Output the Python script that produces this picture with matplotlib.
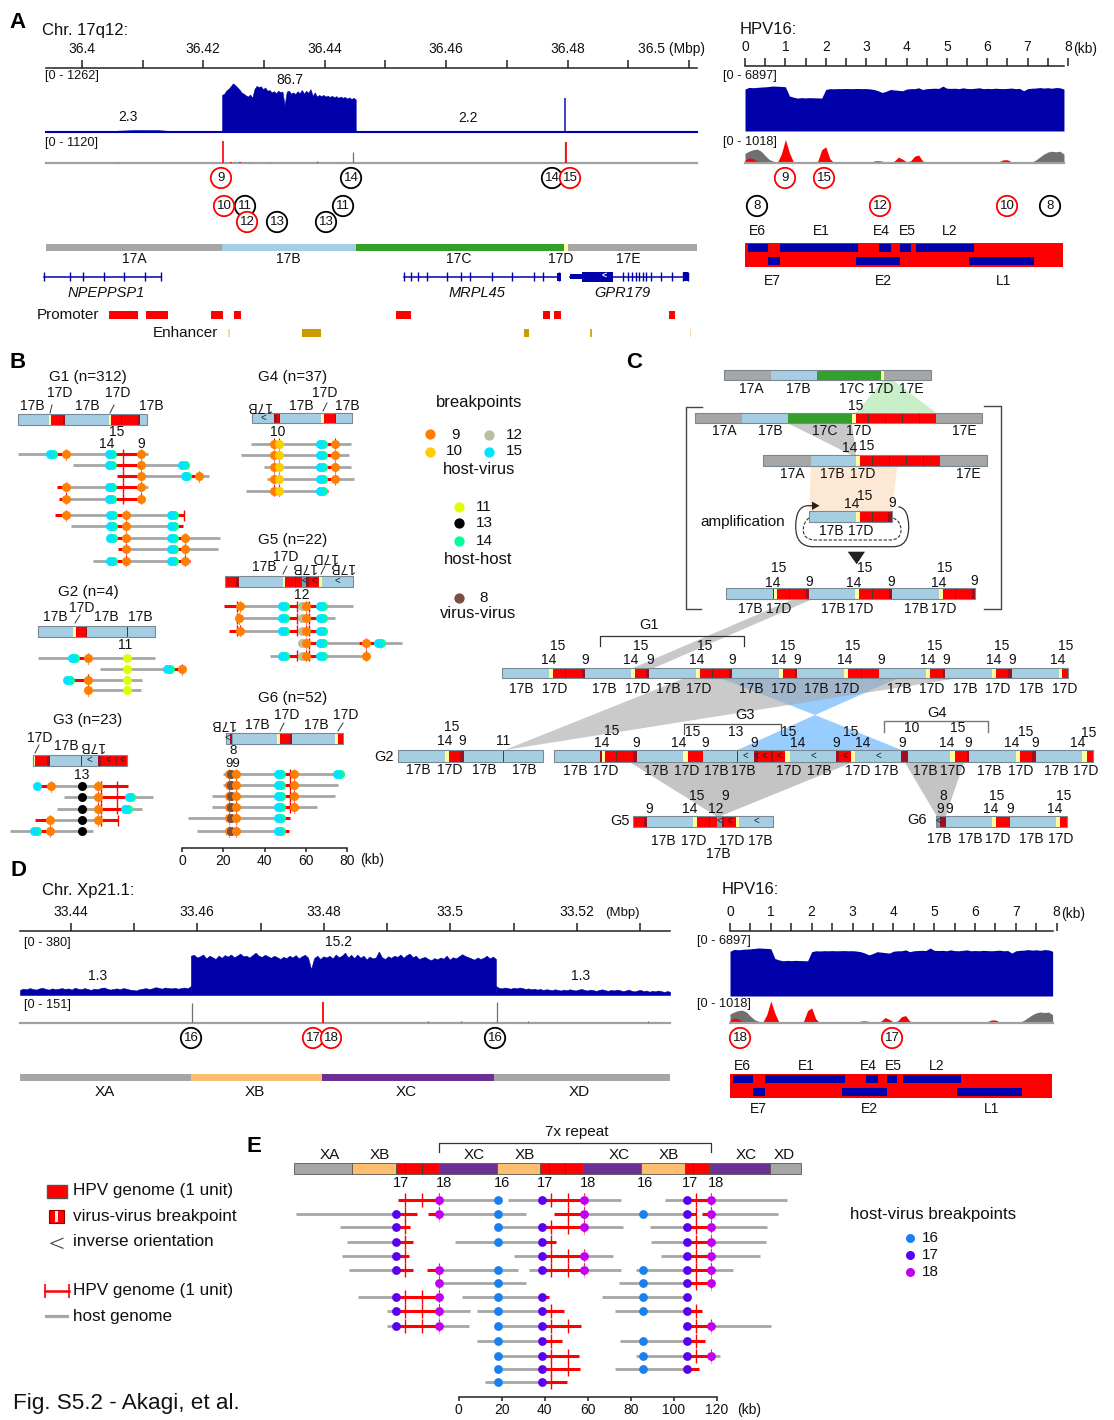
import numpy as np
import matplotlib
matplotlib.use("Agg")
import matplotlib.pyplot as plt
from matplotlib.patches import Circle, Polygon, Rectangle, PathPatch
from matplotlib.path import Path

plt.rcParams['font.family'] = ['Liberation Sans', 'DejaVu Sans']

W, H = 1114, 1420

# ---- panel A, chr17 coverage (Mbp / depth)
a_left_depth = [20, 22, 20, 24, 22, 26, 22, 20, 24, 28, 26, 24, 34, 38, 44, 48, 46, 44, 48, 40,
                30, 26, 24, 22, 26, 24, 20, 22, 24, 20]
a_block_depth = [900, 930, 1010, 1050, 1110, 1180, 1140, 1090, 1030, 960, 930, 890, 860, 910, 830,
                 1040, 1120, 1090, 1110, 1040, 1080, 1000, 1020, 960, 990, 940, 1000, 970, 980, 650,
                 980, 1000, 930, 960, 920, 990, 940, 1020, 930, 1000, 950, 1040, 880, 960, 860, 900,
                 870, 900, 860, 880, 850, 880, 840, 870, 830, 860, 830, 850, 810, 840, 800, 830, 790]
a_right_depth = [24, 20, 18, 22, 26, 20, 18, 24, 22, 20, 26, 22, 18, 20, 24, 22, 26, 20, 18, 22,
                 20, 24, 28, 22, 20, 24, 22, 26, 20, 18, 24, 28, 22, 20, 24, 18, 22, 26, 20,
                 24, 18, 22, 26, 20, 22, 18, 24, 20, 22]
a_spike = (36.4796, 825)
a_frag_red = [(36.4233, 820), (36.4797, 780), (36.4245, 40), (36.4261, 30)]
a_frag_grey = [(36.4446, 410), (36.4795, 800), (36.4060, 20), (36.4276, 50), (36.4310, 50),
               (36.4387, 60), (36.4422, 40)]
a_seg_edges = [36.3941, 36.4231, 36.4451, 36.4794, 36.4800, 36.5013]

npeppsp1_exons = [36.3938, 36.3981, 36.4002, 36.4036, 36.4070, 36.4104, 36.4131]
mrpl45_exons = [36.4530, 36.4542, 36.4553, 36.4568, 36.4602, 36.4625, 36.4639, 36.4675, 36.4709,
                36.4745, 36.4760, 36.4785]
gpr179_exons = [36.4891, 36.4899, 36.4906, 36.4912, 36.4917, 36.4924, 36.4929, 36.4937, 36.4953,
                36.4972, 36.4990, 36.4998]
promoters = [(36.4045, 36.4092), (36.4106, 36.4142), (36.4213, 36.4233), (36.4251, 36.4262),
             (36.4517, 36.4542), (36.4759, 36.4771), (36.4777, 36.4789), (36.4967, 36.4977)]
enhancers = [(36.4241, 36.4244, '#f5dc9c'), (36.4363, 36.4394, '#cc9900'),
             (36.4728, 36.4737, '#cc9900'), (36.4837, 36.4840, '#d9aa20'),
             (36.5002, 36.5003, '#f5dc9c')]

# ---- HPV16 tracks, one value per 0.1 kb
hpv_cov = [4900, 5100, 5060, 5100, 5140, 5160, 5210, 5260, 5230, 5210, 5170,
           4100, 3950, 3850, 3900, 3870, 3900, 3880, 3870, 3850,
           4850, 4950, 4930, 4960, 4950, 4970, 4950, 4960, 4970, 4950, 4960,
           4920, 4850, 4700, 4500, 4650, 4850, 4800, 4750, 4700,
           4900, 4950, 4950, 5050, 4850, 4950, 4980, 5000, 4980, 5250,
           5000, 4980, 5000, 4950, 5050, 4970, 4950, 5000, 5050, 4950,
           4980, 4950, 5000, 4970, 4950, 4980, 5020, 4950, 4980, 4700,
           4950, 5000, 5020, 5080, 5020, 5060, 5000, 5080, 5050, 4900]
hpv_grey = [330, 400, 450, 470, 400, 250, 120, 60, 40, 20,
            0, 0, 0, 0, 0, 10, 50, 10, 0, 0,
            0, 0, 0, 0, 0, 0, 0, 40, 10, 10,
            40, 10, 0, 0, 0, 0, 0, 0, 0, 0,
            0, 0, 0, 0, 0, 0, 0, 0, 30, 10,
            0, 10, 30, 10, 0, 0, 20, 0, 0, 0,
            0, 0, 0, 0, 0, 0, 0, 0, 0, 10,
            10, 30, 100, 200, 300, 370, 400, 380, 400, 300]
hpv_red = [100, 180, 150, 60, 50, 10, 0, 0, 20, 300,
           800, 350, 30, 0, 0, 0, 0, 20, 60, 450,
           550, 150, 10, 0, 0, 0, 0, 0, 0, 0,
           0, 0, 70, 80, 60, 0, 0, 70, 200, 130,
           40, 70, 230, 270, 70, 10, 0, 0, 0, 0,
           0, 0, 0, 0, 0, 0, 0, 0, 0, 0,
           0, 0, 0, 50, 110, 110, 40, 0, 0, 0,
           0, 0, 0, 0, 0, 0, 0, 0, 0, 0]
hpv_genes_top = [("E6", 0.08, 0.56, 0.30), ("E1", 0.86, 2.81, 1.88), ("E4", 3.33, 3.62, 3.39),
                 ("E5", 3.85, 4.10, 4.01), ("L2", 4.24, 5.66, 5.07)]
hpv_genes_low = [("E7", 0.56, 0.86, 0.69), ("E2", 2.75, 3.85, 3.42), ("L1", 5.56, 7.16, 6.41)]

# ---- panel D, chrX coverage
d_left_depth = [34, 42, 38, 46, 40, 36, 44, 48, 40, 36, 44, 38, 42, 46, 40, 44, 36, 48, 42, 38,
                46, 40, 34, 42, 38, 46, 50, 42, 36, 40, 44, 38, 46, 42, 36, 34, 30, 38, 42, 46,
                40, 44, 52, 48, 42, 50, 46, 44, 48, 42, 46, 50, 44, 60]
d_block_depth = [262, 268, 250, 258, 270, 244, 262, 252, 240, 262, 248, 266, 256, 270, 252, 262, 276,
                 258, 262, 250, 266, 282, 262, 254, 268, 258, 248, 262, 252, 240, 254, 246, 262, 250,
                 266, 244, 258, 268, 250, 172, 246, 262, 240, 258, 250, 262, 244, 270, 252, 262, 282,
                 250, 268, 246, 270, 248, 262, 238, 256, 244, 250, 290, 252, 240, 258, 248, 262, 254,
                 270, 248, 266, 276, 252, 262, 240, 248, 254, 240, 232, 246, 238, 250, 242, 262, 236,
                 252, 244, 258, 272, 260, 252, 244, 236, 250, 240, 248, 262, 244, 256, 240]
d_right_depth = [60, 48, 44, 50, 46, 42, 48, 44, 50, 46, 40, 44, 38, 42, 36, 40, 34, 38, 36, 32,
                 38, 34, 30, 36, 32, 38, 34, 30, 36, 40, 34, 30, 36, 32, 28, 34, 38, 32, 28, 34,
                 30, 36, 32, 26, 30, 36, 28, 24, 30, 34, 26, 30, 22, 28, 24, 30, 26, 20, 26, 22]
d_frag_red = [(33.4798, 138)]
d_frag_grey = [(33.4592, 131), (33.5073, 138), (33.4965, 15), (33.5017, 12), (33.5122, 10),
               (33.5313, 10)]
d_seg_edges = [33.4320, 33.4590, 33.4797, 33.5069, 33.5347]

# ---- panel B, breakpoint ids and junction reads (kb)
PAIR = 1415
G1_rows = [454, 465, 476, 487.3, 498.7, 515, 526.3, 538, 549.3, 560.7]
G1_reads = [
    (0, [(-79.7, -34.7), (-20.2, -16.7)], [(-63.6, -56.5), (-34.7, -20.2)], [-28.7],
     [(PAIR, -63.6), (9, -56.5), (PAIR, -34.7), (9, -20.2)]),
    (1, [(-53.3, -34.7), (-20.2, 0.5)], [(-34.7, -20.2)], [-28.7],
     [(PAIR, -34.7), (9, -20.2), (PAIR, 0.5)]),
    (2, [(-20.2, 1.8), (8.3, 13.1)], [(-31.9, -20.2), (1.8, 8.3)], [-28.7],
     [(9, -20.2), (PAIR, 1.8), (9, 8.3)]),
    (3, [(-56.5, -34.7), (-20.2, -16.7)], [(-60.7, -56.5), (-34.7, -20.2)], [-28.7],
     [(9, -56.5), (PAIR, -34.7), (9, -20.2)]),
    (4, [(-56.5, -34.7)], [(-60.1, -56.5), (-34.7, -20.2)], [-28.7],
     [(9, -56.5), (PAIR, -34.7), (9, -20.2)]),
    (5, [(-56.5, -34.4), (-27.4, -4.9)], [(-61.9, -56.5), (-34.4, -27.4), (-4.9, 1.0)], [1.0],
     [(9, -56.5), (PAIR, -34.4), (9, -27.4), (PAIR, -4.9)]),
    (6, [(-54.3, -34.4), (-27.4, -4.9)], [(-34.4, -27.4), (-4.9, 0.5)], [],
     [(PAIR, -34.4), (9, -27.4), (PAIR, -4.9)]),
    (7, [(-27.4, -4.9), (1.3, 18.3)], [(-34.4, -27.4), (-4.9, 1.3)], [],
     [(PAIR, -34.4), (9, -27.4), (PAIR, -4.9), (9, 1.3)]),
    (8, [(-27.4, -4.9), (1.3, 17.2)], [(-31.4, -27.4), (-4.9, 1.3)], [],
     [(9, -27.4), (PAIR, -4.9), (9, 1.3)]),
    (9, [(-43.6, -34.4), (-27.4, -4.9)], [(-34.4, -27.4), (-4.9, 3.7)], [],
     [(PAIR, -34.4), (9, -27.4), (PAIR, -4.9), (9, 1.3)]),
]
G2_rows = [658.3, 669, 679.7, 690]
G2_reads = [
    (0, [(-70.3, -53), (-45.7, -13.3)], [(-53, -45.7)], [], [(PAIR, -53), (9, -45.7), (11, -27)]),
    (1, [(-40, -6.5)], [(-6.5, -0.2)], [], [(11, -27), (PAIR, -6.5), (9, -0.2)]),
    (2, [(-45.7, -19.4)], [(-55.4, -45.7)], [], [(PAIR, -55.4), (9, -45.7), (11, -27)]),
    (3, [(-45.7, -20.1)], [], [], [(9, -45.7), (11, -27)]),
]
G3_rows = [786.3, 797.3, 808.7, 820, 831]
G3_reads = [
    (0, [(-64, -41.1)], [(-70.4, -64), (-41.1, -26.2)], [-39.5, -31.6],
     [(15, -70.4), (9, -64), (13, -48.9), (9, -41.1)]),
    (1, [(-57.5, -41.1), (-25.4, -14.3)], [(-41.1, -25.4)], [-39.5, -31.6],
     [(13, -48.9), (9, -41.1), (PAIR, -25.4)]),
    (2, [(-61, -41.1), (-26.9, -19.8)], [(-41.1, -26.9)], [-39.5, -31.6],
     [(13, -48.9), (9, -41.1), (PAIR, -26.9)]),
    (3, [(-64.3, -41.1)], [(-71.6, -64.3), (-41.1, -31.1)], [-39.5, -31.1],
     [(9, -64.3), (13, -48.9), (9, -41.1)]),
    (4, [(-83.7, -71.3), (-64.3, -43.2)], [(-71.3, -64.3)], [],
     [(PAIR, -71.3), (9, -64.3), (13, -48.9)]),
]
G4_rows = [443.7, 455.3, 467.3, 479, 490.7]
G4_reads = [
    (0, [(33.2, 67.7), (74.2, 82.1)], [(67.7, 74.2)], [], [(9, 44.7), (10, 46.8), (PAIR, 67.7), (9, 74.2)]),
    (1, [(28.5, 67.7), (74.2, 81.1)], [(67.7, 74.2)], [], [(9, 44.7), (10, 46.8), (PAIR, 67.7), (9, 74.2)]),
    (2, [(39.8, 67.7), (74.2, 82.1)], [(67.7, 74.2)], [], [(9, 44.7), (10, 46.8), (PAIR, 67.7), (9, 74.2)]),
    (3, [(41.3, 67.7), (74.2, 83.4)], [(67.7, 74.2)], [], [(9, 44.7), (10, 46.8), (PAIR, 67.7), (9, 74.2)]),
    (4, [(30.9, 67.7)], [(67.7, 70.6)], [], [(9, 44.7), (10, 46.8), (PAIR, 67.7)]),
]
G5_rows = [606, 618.3, 630.7, 643.3, 655.7]
G5_reads = [
    (0, [(28, 49.1), (67.5, 83.1)], [(20.2, 28), (49.1, 58), (60.2, 67.5)], [26.7, 55.5, 61.7],
     [(9, 28), (PAIR, 49.1), (12, 58), (9, 60.2), (PAIR, 67.5)]),
    (1, [(27.5, 49.1), (67.5, 74.2)], [(49.1, 58), (60.2, 67.5)], [26.7, 55.5, 61.7],
     [(9, 27.5), (PAIR, 49.1), (12, 58), (9, 60.2), (PAIR, 67.5)]),
    (2, [(28, 49.1)], [(22.8, 28), (49.1, 58), (60.2, 67.5)], [26.7, 55.5, 61.7],
     [(9, 28), (PAIR, 49.1), (12, 58), (9, 60.2), (PAIR, 67.5)]),
    (3, [(67.5, 86), (96, 106.6)], [(60.2, 67.5), (86, 96)], [61.7],
     [(12, 58), (9, 60.2), (PAIR, 67.5), (9, 89.2), (PAIR, 96)]),
    (4, [(42.6, 49.1), (67.5, 89.2)], [(49.1, 58), (60.2, 67.5)], [55.5, 61.7],
     [(PAIR, 49.1), (12, 58), (9, 60.2), (PAIR, 67.5), (9, 89.2)]),
]
G6_rows = [774, 785, 796, 807, 818, 831]
G6_reads = [
    (0, [(19.9, 47.4), (54.3, 75.8)], [(47.4, 54.3)], [52.5], [(9, 22.5), (8, 23.6), (9, 26.1), (PAIR, 47.4), (9, 54.3), (PAIR, 75.8)]),
    (1, [(19.9, 47.4), (54.3, 75.8)], [(47.4, 54.3)], [52.5], [(9, 22.5), (8, 23.6), (9, 26.1), (PAIR, 47.4), (9, 54.3)]),
    (2, [(14.6, 47.4), (54.3, 74.2)], [(47.4, 54.3)], [52.5], [(9, 22.5), (8, 23.6), (9, 26.1), (PAIR, 47.4), (9, 54.3)]),
    (3, [(14.6, 47.4), (54.3, 65.3)], [(47.4, 54.3)], [52.5], [(9, 22.5), (8, 23.6), (9, 26.1), (PAIR, 47.4), (9, 54.3)]),
    (4, [(2.9, 47.4)], [(47.4, 52.3)], [], [(9, 22.5), (8, 23.6), (9, 26.1), (PAIR, 47.4)]),
    (5, [(7, 47.4)], [(47.4, 52)], [], [(9, 22.5), (8, 23.6), (9, 26.1), (PAIR, 47.4)]),
]

# ---- panel E reads (kb)
E_rows = [1200, 1214.3, 1227.3, 1241.7, 1256, 1270, 1283.3, 1296.7, 1310.7, 1326, 1341.3, 1356,
          1368.7, 1382]
E_reads = [
    (0, [(-9.3, 18.2), (23, 38.5), (58.2, 75.4), (96, 105.9), (117.4, 152.4)],
     [(-28, -9.3), (38.5, 58.2), (105.9, 117.4)], [-24.7, -17, 42.7, 50.8, 110.4],
     [(18, -9.3), (16, 18.2), (17, 38.5), (18, 58.2), (17, 105.9), (18, 117.4)]),
    (1, [(-75.4, -29.2), (-9.3, 31.2), (58.2, 105.9), (117.4, 148.2)],
     [(-29.2, -19.2), (-14, -9.3), (44.5, 58.2), (105.9, 110.4), (112.8, 117.4)], [-24.7, 50.8, 110.4],
     [(17, -29.2), (18, -9.3), (16, 18.2), (18, 58.2), (16, 85.8), (17, 105.9), (18, 117.4)]),
    (2, [(-55.1, -29.2), (18.2, 38.5), (58.2, 76.4), (88.8, 105.9), (117.4, 143)],
     [(-29.2, -22.5), (38.5, 58.2), (105.9, 117.4)], [-24.7, 42.7, 50.8, 110.4],
     [(17, -29.2), (16, 18.2), (17, 38.5), (18, 58.2), (17, 105.9), (18, 117.4)]),
    (3, [(-52, -29.2), (-1.9, 38.5), (89.1, 105.9), (117.4, 142.7)],
     [(-29.2, -21.3), (38.5, 45), (105.9, 117.4)], [-24.7, 42.7, 110.4],
     [(17, -29.2), (16, 18.2), (17, 38.5), (17, 105.9), (18, 117.4)]),
    (4, [(-53.9, -29.2), (25.6, 38.5), (58.2, 71.6), (94.1, 105.9), (117.4, 140.1)],
     [(-29.2, -23), (38.5, 58.2), (105.9, 117.4)], [-24.7, 42.7, 50.8, 110.4],
     [(17, -29.2), (17, 38.5), (18, 58.2), (17, 105.9), (18, 117.4)]),
    (5, [(-51, -29.2), (-9.3, 27.5), (32.6, 38.5), (58.2, 75.4), (82.4, 105.9), (117.4, 127.6)],
     [(-29.2, -21.1), (-14.8, -9.3), (38.5, 58.2), (105.9, 117.4)], [-24.7, 42.7, 50.8, 110.4],
     [(17, -29.2), (18, -9.3), (16, 18.2), (17, 38.5), (18, 58.2), (16, 85.8), (17, 105.9), (18, 117.4)]),
    (6, [(-9.3, 31.2), (74.5, 105.9)], [(105.9, 117.4)], [110.4],
     [(18, -9.3), (16, 18.2), (16, 85.8), (17, 105.9), (18, 117.4)]),
    (7, [(-46.5, -29.2), (1.5, 38.5), (66.8, 105.9)], [(-29.2, -9.3), (38.5, 42)], [-24.7, -17],
     [(17, -29.2), (18, -9.3), (16, 18.2), (17, 38.5), (16, 85.8), (17, 105.9)]),
    (8, [(-33.1, -29.2), (-9.3, 5.5), (8.4, 38.5), (72.4, 105.9)],
     [(-29.2, -9.3), (38.5, 49.1), (105.9, 112.8)], [-24.7, -17, 42.7, 110.4],
     [(17, -29.2), (18, -9.3), (16, 18.2), (17, 38.5), (16, 85.8), (17, 105.9)]),
    (9, [(-33.1, -29.2), (-9.3, 4.6), (18.2, 38.5), (117.4, 145.2)],
     [(-29.2, -9.3), (38.5, 57), (105.9, 117.4)], [-24.7, -17, 42.7, 50.8, 110.4],
     [(17, -29.2), (18, -9.3), (16, 18.2), (17, 38.5), (17, 105.9), (18, 117.4)]),
    (10, [(8.4, 38.5), (74.9, 105.9)], [(38.5, 47.9), (105.9, 114.5)], [42.7, 110.4],
     [(16, 18.2), (17, 38.5), (16, 85.8), (17, 105.9)]),
    (11, [(18.2, 38.5), (82.4, 105.9), (117.4, 121.5)], [(38.5, 56), (105.9, 117.4)], [42.7, 50.8, 110.4],
     [(16, 18.2), (17, 38.5), (16, 85.8), (17, 105.9), (18, 117.4)]),
    (12, [(18.2, 38.5), (72.4, 105.9)], [(38.5, 56.5), (105.9, 111.6)], [42.7, 50.8],
     [(16, 18.2), (17, 38.5), (16, 85.8), (17, 105.9)]),
    (13, [(12.2, 38.5)], [(38.5, 50.3)], [42.7], [(16, 18.2), (17, 38.5)]),
]
E_bar_edges = [-76.2, -49.6, -29.2, -9.3, 17.7, 37.8, 57.9, 84.5, 104.9, 116.9, 144.4, 159.1]
E_bar_kinds = "g o r p o r p o r p g".split()
E_bar_dividers = [-25, -17, 42, 49.6, 109]

DOT = {8: '#7a4f40', 9: '#ff8000', 10: '#ffcc00', 11: '#ddff00', 12: '#bdbd9f', 13: '#000000',
       14: '#00ff99', 15: '#00e5ff', 16: '#1a80f0', 17: '#5a00f0', 18: '#c000f0'}
SEG = {'b': '#a6cee3', 'y': '#ffff99', 'r': '#ff0000', 'd': '#a00f1e', 'g': '#a6a6a6',
       'c': '#33a02c', 'o': '#fdbf6f', 'p': '#6a3096', 's': '#7d9ab0'}
NAVY = '#0000aa'
LINE_GREY = '#a6a6a6'

fig = plt.figure(figsize=(W / 100, H / 100), dpi=100)


def box(x0, y0, x1, y1, xlim, ylim, z=2):
    ax = fig.add_axes([x0 / W, 1 - y1 / H, (x1 - x0) / W, (y1 - y0) / H], zorder=z)
    ax.set_xlim(*xlim)
    ax.set_ylim(*ylim)
    ax.axis('off')
    return ax


ov = box(0, 0, W, H, (0, W), (H, 0), z=1)


def t(x, y, s, size=10, ha='center', rot=0, **kw):
    ov.text(x, y, s, fontsize=size, ha=ha, va='center', rotation=rot, color=kw.pop('color', '#111111'), **kw)


def labels(items, size=10):
    for name, x, y in items:
        t(x, y, name, size=size)


def circles(items, color):
    for name, x, y in items:
        ov.add_patch(Circle((x, y), 10.2, fc='white', ec=color, lw=1.3, zorder=5 if color == 'red' else 4))
        ov.text(x, y, name, fontsize=9.5, ha='center', va='center', zorder=6, color='#111111')


def scale_axis(x0, x1, y, xlim, ticks, tick_labels, top=True, bounds=None, length=5.8, pad=2.5):
    ax = fig.add_axes([x0 / W, 1 - (y + 0.5) / H, (x1 - x0) / W, 1 / H], zorder=3)
    ax.patch.set_visible(False)
    ax.set_xlim(*xlim)
    ax.set_yticks([])
    for side in ax.spines:
        ax.spines[side].set_visible(False)
    side = 'top' if top else 'bottom'
    ax.spines[side].set_visible(True)
    ax.spines[side].set_linewidth(1.1)
    ax.spines[side].set_color('#222222')
    if bounds:
        ax.spines[side].set_bounds(*bounds)
    ax.set_xticks(ticks)
    ax.set_xticklabels(tick_labels, fontsize=10, color='#111111')
    ax.tick_params(axis='x', top=top, bottom=not top, labeltop=top, labelbottom=not top,
                   length=length, width=1.1, color='#222222', pad=pad)
    return ax


def bar(x, y, h, tokens):
    start = x
    prev = x
    for tok in tokens:
        if tok == '|':
            ov.plot([x, x], [y, y + h], color='#553333', lw=0.7, zorder=3)
        elif tok == '<':
            ov.text(prev, y + h / 2 - 0.5, '<', fontsize=7, ha='center', va='center', zorder=4, color='#222222')
        else:
            width = float(tok[1:])
            ov.add_patch(Rectangle((x, y), width, h, fc=SEG[tok[0]], ec='none', zorder=2))
            prev = x + width / 2
            x += width
    ov.add_patch(Rectangle((start, y), x - start, h, fc='none', ec='#7a8894', lw=0.8, zorder=3))


def draw_reads(ax, reads, rows, tick_ids, tick_h=5.5, dot_size=42):
    for row, grey, red, ticks, dots in reads:
        y = rows[row]
        for a, b in grey:
            ax.plot([a, b], [y, y], color=LINE_GREY, lw=2, solid_capstyle='butt', zorder=2)
        for a, b in red:
            ax.plot([a, b], [y, y], color='red', lw=2.2, solid_capstyle='butt', zorder=3)
        if ticks:
            ax.vlines(ticks, y - tick_h, y + tick_h, color='red', lw=1, zorder=3)
        auto = [x for i, x in dots if i in tick_ids]
        if auto:
            ax.vlines(auto, y - tick_h, y + tick_h, color='red', lw=0.8, linestyles=(0, (2, 1)), zorder=3.5)
        for i, x in dots:
            if i == PAIR:
                ax.scatter([x + 0.7], [y], s=dot_size, color=DOT[14], lw=0, zorder=4)
                ax.scatter([x - 0.7], [y], s=dot_size, color=DOT[15], lw=0, zorder=4)
            else:
                ax.scatter([x], [y], s=dot_size, color=DOT[i], lw=0, zorder=4)


def cov_track(ax, xs, ys):
    ax.fill_between(xs, 0, ys, color=NAVY, lw=0.4)


def hpv_panel(x0, x8, y_axis, cov_box, frag_box, map_box, up_y, low_y, range_x, range_y):
    kb = (0, 8)
    scale_axis(x0, x8, y_axis, kb, np.arange(0, 8.5, 0.5),
               [str(int(v)) if v == int(v) else '' for v in np.arange(0, 8.5, 0.5)], bounds=(0, 7.9))
    pos = np.arange(0, 8, 0.1)
    ax = box(x0, cov_box[0], x8, cov_box[1], kb, (0, 6897))
    ax.fill_between(pos, 0, hpv_cov, color=NAVY, lw=0)
    ax = box(x0, frag_box[0], x8, frag_box[1], kb, (0, 1018))
    ax.fill_between(pos, 0, hpv_grey, color='#707070', lw=0)
    ax.fill_between(pos, 0, hpv_red, color='red', lw=0)
    ax.plot([0, 7.9], [0, 0], color='#a0a0a0', lw=1.6, clip_on=False)
    ax = box(x0, 0, x8, H, kb, (H, 0))
    top, bottom = map_box
    ax.barh((top + bottom) / 2, 7.93, left=-0.05, height=bottom - top, color='red')
    for name, a, b, lab in hpv_genes_top:
        ax.barh(top + 5, b - a, left=a, height=7.8, color=NAVY)
        ax.text(lab, up_y, name, fontsize=10, ha='center', va='center', color='#111111')
    for name, a, b, lab in hpv_genes_low:
        ax.barh(bottom - 6, b - a, left=a, height=7.8, color=NAVY)
        ax.text(lab, low_y, name, fontsize=10, ha='center', va='center', color='#111111')
    t(range_x, range_y, '[0 - 6897]', size=9.2, ha='left')
    t(range_x, frag_box[0] + 9, '[0 - 1018]', size=9.2, ha='left')


# panel letters and headings
for letter, x, y in [("A", 18, 22), ("B", 18, 362), ("C", 634, 362), ("D", 18, 870), ("E", 254, 1147)]:
    t(x, y, letter, size=16, weight='bold', color='black')
t(42, 30, "Chr. 17q12:", size=12, ha='left')
t(740, 30, "HPV16:", size=12, ha='left')
t(42, 891, "Chr. Xp21.1:", size=12, ha='left')
t(722, 890, "HPV16:", size=12, ha='left')

# ---- A: host tracks
AX0, AX1 = 46, 697
a_lim = (36.3941, 36.5013)
a_ticks = np.arange(36.40, 36.505, 0.01)
scale_axis(AX0, AX1, 68, a_lim, a_ticks,
           [f"{v:.2f}".rstrip('0') if i % 2 == 0 and i < 10 else '' for i, v in enumerate(a_ticks)])
t(705, 49, "36.5 (Mbp)", ha='right')

ax = box(AX0, 80, AX1, 132, a_lim, (0, 1262))
cov_track(ax, np.linspace(36.3941, 36.4231, len(a_left_depth)), a_left_depth)
cov_track(ax, np.linspace(36.4231, 36.4451, len(a_block_depth)), a_block_depth)
cov_track(ax, np.linspace(36.4451, 36.5013, len(a_right_depth)), a_right_depth)
ax.plot(a_lim, [0, 0], color=NAVY, lw=1.5, clip_on=False)
ax.vlines(a_spike[0], 0, a_spike[1], color='#2020c0', lw=1.2)
t(45, 76, "[0 - 1262]", size=9.2, ha='left')
labels([("2.3", 128, 117), ("86.7", 290, 80), ("2.2", 468, 118)])

ax = box(AX0, 133, AX1, 163, a_lim, (0, 1120))
ax.plot(a_lim, [0, 0], color='#a0a0a0', lw=1.6, clip_on=False)
ax.vlines([p for p, v in a_frag_grey], 0, [v for p, v in a_frag_grey], color='#707070', lw=0.9)
ax.vlines([p for p, v in a_frag_red], 0, [v for p, v in a_frag_red], color='red', lw=1.2)
t(45, 143, "[0 - 1120]", size=9.2, ha='left')

circles([("14", 351, 178), ("14", 552, 178), ("11", 245, 206), ("13", 277, 222), ("13", 326, 222), ("11", 343, 206)], 'black')
circles([("9", 221, 178), ("15", 570, 178), ("10", 224, 206), ("12", 247, 222)], 'red')

ax = box(AX0, 0, AX1, H, a_lim, (H, 0))
for i, kind in enumerate("g b c y g".split()):
    ax.barh(247, a_seg_edges[i + 1] - a_seg_edges[i], left=a_seg_edges[i], height=7, color=SEG[kind])
labels([("17A", 134, 259), ("17B", 288, 259), ("17C", 459, 259), ("17D", 561, 259), ("17E", 628, 259)])
for exons in (npeppsp1_exons, mrpl45_exons):
    ax.plot([exons[0], exons[-1]], [276.7, 276.7], color=NAVY, lw=1.1, clip_on=False)
    ax.vlines(exons, 272, 281, color=NAVY, lw=1, clip_on=False)
ax.barh(276.7, 0.0007, left=36.4782, height=8, color=NAVY)
ax.plot([36.4804, gpr179_exons[-1]], [276.7, 276.7], color=NAVY, lw=1.1)
ax.barh(276.7, 0.0019, left=36.4804, height=5, color=NAVY)
ax.barh(276.7, 0.0051, left=36.4823, height=10, color=NAVY)
ax.text(36.4860, 276.3, '<', fontsize=6.5, color='white', weight='bold', ha='center', va='center')
ax.vlines(gpr179_exons, 272, 281, color=NAVY, lw=1)
ax.barh(276.7, 0.0008, left=36.4990, height=9, color=NAVY)
for name, x, y in [("NPEPPSP1", 106, 293), ("MRPL45", 477, 293), ("GPR179", 622, 293)]:
    t(x, y, name, size=10.5, style='italic')
t(68, 315, "Promoter", size=11)
for a, b in promoters:
    ax.barh(315, b - a, left=a, height=7.5, color='red')
t(185, 333, "Enhancer", size=11)
for a, b, col in enhancers:
    ax.barh(333, b - a, left=a, height=7.5, color=col)

hpv_panel(745, 1068, 66, (72, 131), (133, 163), (243, 267), 231, 281, 723, 76)
t(1085, 49, "(kb)")
circles([("8", 757, 206), ("8", 1050, 206)], 'black')
circles([("9", 785, 178), ("15", 824, 178), ("12", 880, 206), ("10", 1007, 206)], 'red')

# ---- B: junction groups
b_ax = box(0, 0, W, H, ((0 - 182.3) / 2.058, (W - 182.3) / 2.058), (H, 0), z=2)
for reads, rows in [(G1_reads, G1_rows), (G2_reads, G2_rows), (G3_reads, G3_rows),
                    (G4_reads, G4_rows), (G5_reads, G5_rows), (G6_reads, G6_rows)]:
    draw_reads(b_ax, reads, rows, tick_ids=(9, 10))

bar(18.3, 414.3, 10.7, "b30.7 y2.3 r11.3 d2.3 b44 y2 r10.3 | r16.3 d2.3 b7.3".split())
bar(37.7, 626, 10.7, "b35.7 y2.3 r10.4 d1.3 b39.3 | b28".split())
bar(33.3, 755.3, 10.7, "y2 r11.3 d3 b31.7 | b17 < d2.7 r15 < d1.3 r9.7 <".split())
bar(251.7, 413.3, 10, "b22.7 < d2.3 r2 d1.5 b40.7 y3 r10.7 d1.7 b15.7".split())
bar(225, 576, 10.7, "r11 d2.7 b44 y2.3 r10 | r7.3 s3.3 < d3.3 r10.3 < y2.7 b30.7 <".split())
bar(225.7, 733.3, 10.7, "b4.3 < d2 s1.3 b43.7 y2.7 r10.7 d2 b43 y2.7 r5.3".split())

for name, x, y in [("G1 (n=312)", 88, 377), ("G4 (n=37)", 293, 377), ("G5 (n=22)", 293, 540),
                   ("G2 (n=4)", 88, 592), ("G3 (n=23)", 88, 720), ("G6 (n=52)", 293, 698)]:
    t(x, y, name, size=11)
labels([("17D", 60, 393), ("17D", 118, 393), ("17B", 32, 406), ("17B", 87, 406), ("17B", 151, 406),
        ("15", 117, 432), ("14", 107, 444), ("9", 141, 444),
        ("17B", 301, 406), ("17D", 325, 393), ("17B", 347, 406), ("10", 278, 432),
        ("17D", 286, 557), ("17B", 264, 567), ("12", 302, 595),
        ("17D", 82, 608), ("17B", 55, 617), ("17B", 106, 617), ("17B", 140, 617), ("11", 125, 645),
        ("17D", 40, 738), ("17B", 66, 746), ("13", 82, 775),
        ("17B", 257, 725), ("17D", 287, 715), ("17B", 316, 725), ("17D", 346, 715)])
labels([("8", 233, 751), ("99", 233, 764)], size=9.5)
for name, x, y in [("17B", 259, 406), ("17B", 304, 567), ("17D", 324, 557), ("17B", 342, 567),
                   ("17B", 92, 746), ("17B", 223, 724)]:
    t(x, y, name, rot=180)
for (xa, ya), (xb, yb) in [((52, 405), (50, 413)), ((114, 405), (110, 413)), ((327, 403), (323, 411)),
                           ((287, 566), (283, 574)), ((325, 566), (321, 574)), ((80, 615), (75, 623)),
                           ((39, 745), (35, 753)), ((284, 723), (280, 731)), ((343, 723), (338, 731))]:
    ov.plot([xa, xb], [ya, yb], color='#333333', lw=0.7)

scale_axis(182.3, 347, 847.3, (0, 80), [0, 20, 40, 60, 80], ["0", "20", "40", "60", "80"],
           top=False, length=2.8, pad=2)
t(372, 860, "(kb)")

# breakpoints legend
t(479, 402, "breakpoints", size=12)
for key, x, y in [(9, 429.5, 434), (12, 489, 434.5), (10, 429.5, 451.5), (15, 489, 451.5),
                  (11, 459, 507), (13, 459, 523), (14, 459, 541), (8, 459, 598)]:
    ov.scatter([x], [y], s=55, color=DOT[key], lw=0)
for name, x, y in [("9", 455, 435), ("10", 454, 451), ("12", 514, 435), ("15", 514, 451),
                   ("11", 484, 507), ("13", 484, 523), ("14", 484, 541), ("8", 484, 598)]:
    t(x, y, name, size=11)
t(479, 470, "host-virus", size=12)
t(478, 560, "host-host", size=12)
t(478, 614, "virus-virus", size=12)

# ---- C: structure diagram
for pts, col, al in [([(884, 380), (893, 380), (936, 412.7), (856, 412.7)], '#c9efc9', 1),
                     ([(788, 423.3), (852, 423.3), (856, 455.3), (852, 455.3)], '#c8c8c8', 1),
                     ([(810.7, 466), (897.3, 466), (892, 511), (809.3, 511)], '#fde8d5', 1),
                     ([(793, 599.3), (812, 599.3), (654, 668), (633, 668)], '#c8c8c8', 1),
                     ([(720.7, 678.3), (897.6, 678.3), (815, 715)], '#99ccff', 1),
                     ([(736.8, 750.3), (902.2, 750.3), (815, 715)], '#99ccff', 1),
                     ([(504.8, 750), (684, 678.3), (957.3, 678.3)], '#a8a8a8', 0.6),
                     ([(628.9, 761.7), (854, 761.7), (720.7, 816), (716, 816)], '#c4c4c4', 1),
                     ([(904.5, 761.7), (964.2, 761.7), (945.8, 816), (936.6, 816)], '#c4c4c4', 1)]:
    ov.add_patch(Polygon(pts, closed=True, fc=col, ec='none', alpha=al, zorder=1))

bar(724.3, 370, 10, "g46.7 b46.3 c63.3 y3.4 g46.7".split())
for name, x in [("17A", 751.7), ("17B", 798), ("17C", 852), ("17D", 881), ("17E", 911)]:
    t(x, 388.7, name)
bar(695.3, 412.7, 10.6, "g46.7 b46.3 c63.7 y3.6 r12.4 | r17 | r16.6 | r17 | r17 g46.3".split())
for name, x in [("17A", 724), ("17B", 770.7), ("17C", 825), ("17D", 859), ("17E", 964)]:
    t(x, 431, name)
t(856, 405.7, "15")
bar(763.3, 455.3, 10.7, "g47.3 b45 y4.4 r11.6 | r17 | r17 | r17 | r17 g47".split())
for name, x in [("17A", 792), ("17B", 832.7), ("17D", 863), ("17E", 968)]:
    t(x, 474, name)
labels([("14", 850, 448), ("15", 866.7, 445.7), ("14", 851.7, 504), ("15", 864.3, 496), ("9", 891.7, 502.7)])

loop = Path([(816.7, 505.7), (808.3, 505.7), (795.7, 505.7), (795.7, 526.7), (795.7, 546.7), (813.3, 546.7),
             (893.3, 546.7), (908.7, 546.7), (908.7, 526.7), (908.7, 508.3), (898.3, 506.7)],
            [Path.MOVETO, Path.LINETO, Path.CURVE3, Path.CURVE3, Path.CURVE3, Path.CURVE3,
             Path.LINETO, Path.CURVE3, Path.CURVE3, Path.CURVE3, Path.CURVE3])
ov.add_patch(PathPatch(loop, fc='none', ec='#333333', lw=0.9, zorder=2))
inner = Path([(809, 518), (803.3, 522), (803.3, 530), (803.3, 540), (815, 540), (890, 540), (901, 540),
              (901, 530), (901, 521), (893, 518)],
             [Path.MOVETO, Path.CURVE3, Path.CURVE3, Path.CURVE3, Path.CURVE3, Path.LINETO,
              Path.CURVE3, Path.CURVE3, Path.CURVE3, Path.CURVE3])
ov.add_patch(PathPatch(inner, fc='none', ec='#333333', lw=0.8, ls=(0, (3, 1.5)), zorder=2))
ov.add_patch(Polygon([(812, 501.5), (819.5, 505.7), (812, 510)], closed=True, fc='#222222', ec='none', zorder=3))
bar(809.3, 511, 10.7, "b46.4 y4.3 r12.3 | r16 d3.7".split())
labels([("17B", 831.7, 530.7), ("17D", 861, 530.7)])
t(743, 522.3, "amplification", size=11)
ov.add_patch(Polygon([(847.7, 551.7), (865, 551.7), (856.7, 564.3)], closed=True, fc='#222222', ec='none'))
bar(726, 588.3, 11, "b46.7 d1.3 y3.3 r12 | r16.7 d2.7 b46.3 y4.3 r13 | r17 d2.7 b46.7 y4 r12.7 | r16.3 d3".split())
for name, x in [("17B", 750.7), ("17D", 778.7), ("17B", 833.3), ("17D", 860.7), ("17B", 916), ("17D", 943.3)]:
    t(x, 609, name)
labels([("15", 779, 568), ("14", 772.7, 582.7), ("9", 809, 581.7), ("15", 865, 568), ("14", 853.7, 582.7),
        ("9", 890.7, 582.3), ("15", 944.3, 568), ("14", 938.3, 582.7), ("9", 974, 580.7)])
ov.plot([702, 686, 686, 701], [407, 407, 609, 609], color='#444444', lw=1)
ov.plot([984, 1000.7, 1000.7, 984], [406, 406, 609, 609], color='#444444', lw=1)

bar(502, 667.7, 10.7, ("b47 y4 r11.5 | r17 d3.5 b46 y4 r11 d2.5 b47 y4.5 r12 | r16.5 d3.5 b47 y4 r12 d2 "
                       "b46.5 y4 r13 | r18.5 b46.5 y4 r13 d2 b47 y4.5 r12 d4 b46.5 y3.7 r5.5").split())
for name, xs in [("15", [557.7, 640.3, 704.7, 787.3, 853, 935, 1002, 1066]),
                 ("14", [548.5, 631, 696.4, 779, 844.8, 927.4, 994, 1058]),
                 ("9", [584.8, 650.5, 732, 797.4, 881, 945.8, 1012])]:
    for x in xs:
        t(x, 645.7 if name == "15" else 660, name)
for name, xs in [("17B", [521.4, 604.5, 668.8, 751, 816.7, 899, 965, 1031]),
                 ("17D", [554.4, 637.6, 698.7, 784, 846.6, 932, 997.7, 1064.3])]:
    for x in xs:
        t(x, 689.3, name)
t(649.5, 625, "G1", size=10.5)
ov.plot([600.4, 600.4, 744, 744], [645.7, 636, 636, 645.7], color='#333333', lw=0.9)

bar(398.3, 750.3, 11.4, "b46.4 y4.1 r11.5 d3.2 b39.5 | b40".split())
t(384, 757, "G2", size=10.5)
labels([("15", 451.6, 726.7), ("14", 445, 741), ("9", 462.6, 741), ("11", 503.5, 741)])
for name, x in [("17B", 418.5), ("17D", 449.7), ("17B", 484), ("17B", 524)]:
    t(x, 770.3, name)

bar(553.5, 750.3, 11.4, ("b46.9 d1.4 y2.8 r11.9 | r17 d3.2 b46.4 y5 r15.2 b33.5 | b17.5 < d3.2 < r13.8 < d1.4 "
                         "r12.4 < y4.6 b46.4 < d3.2 r12 < y4.1 b46 < d6.4 b41.8 y5 r12 d2.8 b46.4 "
                         "y4.6 r12 d3.7 b46 y4.6 r6.4").split())
labels([("15", 611.4, 731), ("14", 601.3, 743.3), ("9", 636.2, 743), ("14", 679, 743), ("9", 705, 743),
        ("15", 693, 732), ("13", 736, 732), ("9", 753.8, 743), ("15", 788.7, 732), ("14", 797.9, 743),
        ("15", 850.3, 732), ("9", 836, 743), ("14", 862.2, 743), ("9", 902, 743), ("10", 911.4, 728),
        ("15", 957.8, 728), ("14", 946.7, 743), ("9", 967.9, 743), ("15", 1026, 732), ("14", 1011.5, 743),
        ("9", 1035.4, 743), ("15", 1089, 732.7), ("14", 1077.6, 743)])
for name, x in [("17B", 575), ("17D", 606), ("17B", 656.4), ("17D", 686.3), ("17B", 716), ("17B", 743.7),
                ("17D", 789), ("17B", 819.5), ("17D", 857.6), ("17B", 886.6), ("17B", 925), ("17D", 952.7),
                ("17B", 989.5), ("17D", 1020.7), ("17B", 1056), ("17D", 1086)]:
    t(x, 770.7, name)
t(744.6, 715, "G3", size=10.5)
ov.plot([683.5, 683.5, 781.4, 781.4], [734, 724.3, 724.3, 734], color='#555555', lw=0.9)
t(936.6, 713, "G4", size=10.5)
ov.plot([883.8, 883.8, 988, 988], [732, 720.7, 720.7, 732], color='#777777', lw=1)

bar(633, 816, 11.3, "r11 d3.2 b46 y3.7 r12.4 | r7.8 s4.6 < d1.8 r12 < y3.7 b33.5 <".split())
t(620, 821, "G5", size=10.5)
labels([("15", 696.4, 795.7), ("9", 725.3, 795.7), ("9", 649.5, 809), ("14", 690, 809), ("12", 716, 809),
        ("17B", 662.9, 840.7), ("17D", 694, 840.7), ("17D", 732, 840.7), ("17B", 760, 840.7), ("17B", 718.4, 854)])
bar(935.7, 816, 11.3, "s4.6 < d5.5 b46 y3.7 r14.7 b45.9 y3.7 r6.9".split())
t(917, 819.7, "G6", size=10.5)
labels([("8", 943.5, 795.7), ("9", 939.8, 809.3), ("9", 949.5, 809.3), ("15", 996.3, 795.7), ("14", 990.4, 809.3),
        ("9", 1009.7, 809.3), ("15", 1063.4, 795.7), ("14", 1054.7, 809.3),
        ("17B", 939, 839.3), ("17B", 970, 839.3), ("17D", 998, 839.3), ("17B", 1031.7, 839.3), ("17D", 1060.6, 839.3)])

# ---- D: host tracks
DX0, DX1 = 20, 670
d_lim = (33.4320, 33.5347)
d_ticks = np.arange(33.44, 33.535, 0.01)
scale_axis(DX0, DX1, 931, d_lim, d_ticks,
           [f"{v:.2f}".rstrip('0') if i % 2 == 0 else '' for i, v in enumerate(d_ticks)])
t(622, 913, "(Mbp)", size=9.5)

ax = box(DX0, 938, DX1, 995, d_lim, (0, 380))
cov_track(ax, np.linspace(33.4320, 33.4590, len(d_left_depth)), d_left_depth)
cov_track(ax, np.linspace(33.4590, 33.5072, len(d_block_depth)), d_block_depth)
cov_track(ax, np.linspace(33.5072, 33.5347, len(d_right_depth)), d_right_depth)
t(24, 943, "[0 - 380]", size=9.2, ha='left')
labels([("1.3", 98, 976), ("15.2", 339, 942), ("1.3", 581, 976)])

ax = box(DX0, 1000, DX1, 1023, d_lim, (0, 151))
ax.plot(d_lim, [0, 0], color='#a0a0a0', lw=1.6, clip_on=False)
ax.vlines([p for p, v in d_frag_grey], 0, [v for p, v in d_frag_grey], color='#707070', lw=0.9)
ax.vlines([p for p, v in d_frag_red], 0, [v for p, v in d_frag_red], color='red', lw=1.3)
t(24, 1005, "[0 - 151]", size=9.2, ha='left')
circles([("16", 191, 1038), ("16", 495, 1038)], 'black')
circles([("17", 313, 1038), ("18", 331, 1038)], 'red')

ax = box(DX0, 0, DX1, H, d_lim, (H, 0))
for i, kind in enumerate("g o p g".split()):
    ax.barh(1077, d_seg_edges[i + 1] - d_seg_edges[i], left=d_seg_edges[i], height=7, color=SEG[kind])
for name, x in [("XA", 105), ("XB", 255), ("XC", 406), ("XD", 579)]:
    t(x, 1092, name, size=11)

hpv_panel(730, 1056.7, 931, (933, 996), (995, 1023), (1074, 1098), 1066, 1109, 697, 941)
t(1073, 914, "(kb)")
circles([("18", 740, 1038), ("17", 892, 1038)], 'red')

# ---- E: reads across the repeat
e_ax = box(0, 0, W, H, ((0 - 458.6) / 2.154, (W - 458.6) / 2.154), (H, 0), z=2)
for i, kind in enumerate(E_bar_kinds):
    e_ax.barh(1168.5, E_bar_edges[i + 1] - E_bar_edges[i], left=E_bar_edges[i], height=10.5,
              color=SEG[kind], edgecolor='#555555', lw=0.6)
e_ax.vlines(E_bar_dividers, 1163.3, 1173.7, color='#553333', lw=0.7)
draw_reads(e_ax, E_reads, E_rows, tick_ids=(18,), tick_h=7, dot_size=40)
scale_axis(458.6, 717, 1396, (0, 120), [0, 20, 40, 60, 80, 100, 120],
           ["0", "20", "40", "60", "80", "100", "120"], top=False, length=3, pad=2)
t(749, 1410, "(kb)")
t(577, 1132, "7x repeat", size=11)
ov.plot([438.6, 438.6, 711, 711], [1152, 1142.7, 1142.7, 1152], color='#333333', lw=0.9)
for name, x in [("XA", 329.5), ("XB", 380), ("XC", 474.5), ("XB", 525), ("XC", 619), ("XB", 669), ("XC", 746.6), ("XD", 784)]:
    t(x, 1155, name, size=11)
for name, x in [("17", 401), ("18", 444), ("16", 502), ("17", 545.5), ("18", 588), ("16", 645), ("17", 690), ("18", 716)]:
    t(x, 1183, name, size=10.5)

t(850, 1214, "host-virus breakpoints", size=12.2, ha='left')
for key, y in [(16, 1237.7), (17, 1254.7), (18, 1271.5)]:
    ov.scatter([910], [y], s=42, color=DOT[key], lw=0)
    t(922, y, str(key), size=11, ha='left')

# ---- bottom-left legend
ov.add_patch(Rectangle((47, 1185), 20, 12.5, fc='red', ec='#555555', lw=1))
t(73, 1190, "HPV genome (1 unit)", size=12.3, ha='left')
ov.add_patch(Rectangle((49, 1210), 15, 12.7, fc='red', ec='#8b0000', lw=0.8))
ov.add_patch(Rectangle((55.3, 1211), 2.4, 10.7, fc='#f5e8e8', ec='none', zorder=3))
t(73, 1216, "virus-virus breakpoint", size=12.3, ha='left')
ov.plot([63, 50.7, 63], [1238.3, 1243.3, 1248.3], color='#444444', lw=0.8)
t(73, 1242, "inverse orientation", size=12.3, ha='left')
ov.plot([45, 69], [1290.7, 1290.7], color='red', lw=1.8)
ov.vlines([45, 69], 1283.5, 1298, color='red', lw=1.2)
t(73, 1291, "HPV genome (1 unit)", size=12.3, ha='left')
ov.plot([46, 67], [1316, 1316], color=LINE_GREY, lw=2.3)
t(73, 1316, "host genome", size=12.3, ha='left')
t(13, 1403, "Fig. S5.2 - Akagi, et al.", size=16.2, ha='left')

fig.savefig('out.png', dpi=100)
